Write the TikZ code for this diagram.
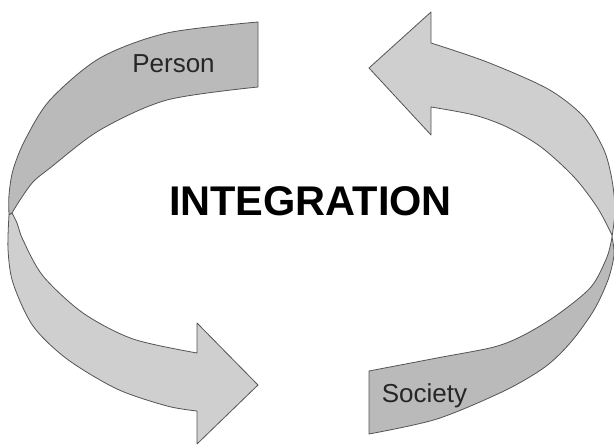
\documentclass[tikz,border=0pt]{standalone}
\usepackage{fontspec}
\setmainfont{Liberation Sans}
\definecolor{ribbondark}{gray}{0.73}
\definecolor{ribbonlight}{gray}{0.81}
\definecolor{ribbonedge}{gray}{0.33}
\begin{document}
\begin{tikzpicture}[x=1pt,y=-1pt,
    ribbon/.style={draw=ribbonedge,line width=0.8pt,line join=round},
    label/.style={anchor=base,inner sep=0pt,text=black!85,font=\fontsize{26}{30}\selectfont}]
\useasboundingbox (0,0) rectangle (614,446);
\clip (0,0) rectangle (614,446);
% left ribbon, top half
\filldraw[ribbon,fill=ribbondark] plot[smooth] coordinates {(258,22) (167,33) (100,58) (50,100) (25,140) (13,170) (9,195) (9,215)}
    -- plot[smooth] coordinates {(12,213) (20,200) (33,182) (50,168) (100,130) (167,100) (258,87)} -- cycle;
% left ribbon, bottom half with head
\filldraw[ribbon,fill=ribbonlight] plot[smooth] coordinates {(9,215) (8,249) (13,283) (33,326) (67,359) (117,389) (167,406) (197,411)}
    -- (197,444) -- (258,385) -- (197,323) -- (197,353)
    -- plot[smooth] coordinates {(197,353) (133,339) (83,313) (43,276) (23,240) (17,223) (12,213)} -- cycle;
% right ribbon, bottom half
\filldraw[ribbon,fill=ribbondark] plot[smooth] coordinates {(369,434) (437,419) (504,391) (545,367) (571,342) (594,310) (608,280) (614,255) (612,237)}
    -- plot[smooth] coordinates {(612,237) (607,257) (591,287) (557,315) (524,335) (494,347) (437,358) (369,371)} -- cycle;
% right ribbon, top half with head
\filldraw[ribbon,fill=ribbonlight] plot[smooth] coordinates {(612,237) (615,210) (612,180) (604,150) (584,117) (548,89) (487,62) (431,43)}
    -- (431,12) -- (369,68) -- (431,135) -- (431,107)
    -- plot[smooth] coordinates {(431,107) (474,115) (507,127) (541,147) (574,177) (597,207) (611,233) (612,237)} -- cycle;
\node[label] (person) at (173.5,73) {Person};
\node[label] (society) at (424.5,403) {Society};
\node[anchor=base,inner sep=0pt,font=\fontsize{41.5}{48}\selectfont\bfseries] (title) at (310.5,216) {INTEGRATION};
\end{tikzpicture}
\end{document}
